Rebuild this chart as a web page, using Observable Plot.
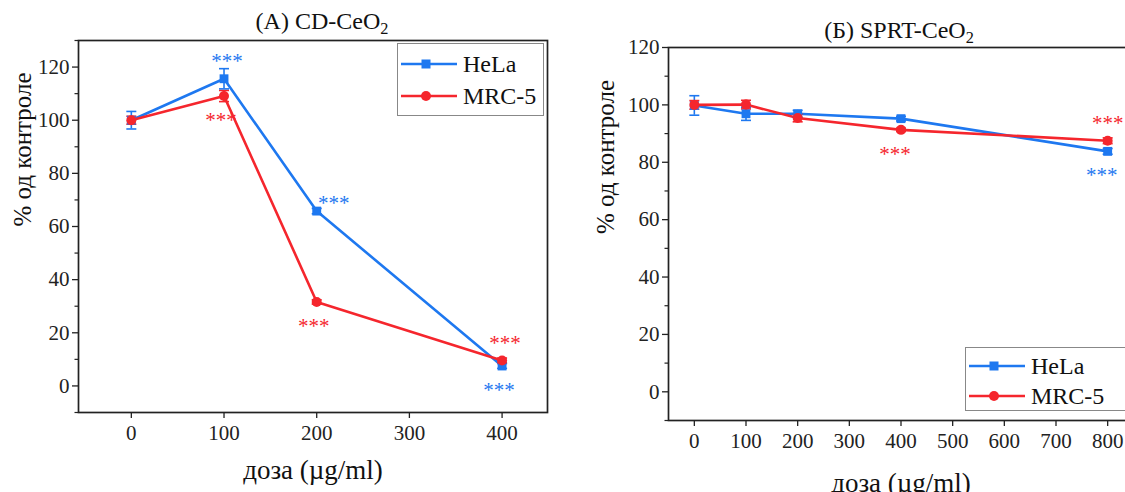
<!DOCTYPE html>
<html>
<head>
<meta charset="utf-8">
<script src="https://cdn.jsdelivr.net/npm/d3@7"></script>
<script src="https://cdn.jsdelivr.net/npm/@observablehq/plot@0.6"></script>
<style>
html, body { margin: 0; padding: 0; background: #fff; overflow: hidden; }
#root { position: relative; width: 1125px; height: 492px; overflow: hidden;
  font-family: "Liberation Serif", "Times New Roman", serif; color: #111; background: #fff; }
#root svg { max-width: none !important; font-family: "Liberation Serif", "Times New Roman", serif !important; }
#root svg text { font-family: "Liberation Serif", "Times New Roman", serif !important; }
.panel { position: absolute; top: 0; width: 620px; }
.title { position: absolute; font-size: 24px; white-space: nowrap; transform: translateX(-50%); line-height: 1; }
.title sub { font-size: 0.68em; vertical-align: -0.3em; line-height: 0; }
.legend { position: absolute; background: #fff; border: 1px solid #888; box-sizing: border-box; }
.legend .row { position: absolute; left: 0; display: flex; align-items: center; font-size: 24px; white-space: nowrap; }
.legend svg { display: block; margin-right: 5px; }
</style>
</head>
<body>
<div id="root"></div>
<script>
// ---------- data ----------
const series = ["HeLa", "MRC-5"];
const colors = ["#1e78f0", "#f5262d"];

// Panel A: CD-CeO2
const dosesA = [0, 100, 200, 400];
const helaA = [100, 115.6, 65.8, 7.5];
const helaAErr = [3.3, 3.8, 1.0, 0.9];
const mrcA = [100, 109.1, 31.6, 9.6];
const mrcAErr = [1.5, 2.1, 0.8, 0.9];

// Panel B: SPRT-CeO2
const dosesB = [0, 100, 200, 400, 800];
const helaB = [99.8, 96.9, 96.9, 95.2, 83.8];
const helaBErr = [3.4, 2.3, 1.2, 0.8, 1.0];
const mrcB = [100, 100.1, 95.4, 91.3, 87.5];
const mrcBErr = [1.5, 1.5, 1.3, 0.6, 1.0];

// significance marks (***): which point and on which side of it
const sigA = [
  {series: "HeLa", dose: 100, side: "above"},
  {series: "MRC-5", dose: 100, side: "below"},
  {series: "HeLa", dose: 200, side: "right"},
  {series: "MRC-5", dose: 200, side: "below"},
  {series: "MRC-5", dose: 400, side: "above"},
  {series: "HeLa", dose: 400, side: "below"}
];
const sigB = [
  {series: "MRC-5", dose: 400, side: "below"},
  {series: "MRC-5", dose: 800, side: "above"},
  {series: "HeLa", dose: 800, side: "below"}
];

// axis ticks
const yTicksA = [0, 20, 40, 60, 80, 100, 120];
const yMinorA = [-10, 10, 30, 50, 70, 90, 110, 130];
const xTicksA = [0, 100, 200, 300, 400];
const yTicksB = [0, 20, 40, 60, 80, 100, 120];
const yMinorB = [-10, 10, 30, 50, 70, 90, 110];
const xTicksB = [0, 100, 200, 300, 400, 500, 600, 700, 800];

const xLabel = "доза (µg/ml)";
const yLabel = "% од контроле";

// ---------- helpers ----------
function rows(doses, hela, helaErr, mrc, mrcErr) {
  const out = [];
  doses.forEach((d, i) => out.push({series: "HeLa", dose: d, v: hela[i], e: helaErr[i]}));
  doses.forEach((d, i) => out.push({series: "MRC-5", dose: d, v: mrc[i], e: mrcErr[i]}));
  return out;
}
const cap = {draw(ctx) { ctx.moveTo(-5, 0); ctx.lineTo(5, 0); }};
const FONT = '"Liberation Serif", "Times New Roman", serif';

function sigRows(sig, data) {
  return sig.map(s => {
    const p = data.find(d => d.series === s.series && d.dose === s.dose);
    return {...s, v: p.v};
  });
}

function panel(cfg) {
  const data = rows(cfg.doses, cfg.hela, cfg.helaErr, cfg.mrc, cfg.mrcErr);
  const sig = sigRows(cfg.sig, data);
  const off = {above: [3, -17], below: [-3, 24], right: [17, -8]};
  const sigMarks = ["above", "below", "right"].map(side =>
    Plot.text(sig.filter(s => s.side === side), {
      x: "dose", y: "v", text: () => "***", fill: "series",
      fontSize: 21, dx: off[side][0] + (cfg.sigDx || 0), dy: off[side][1], lineAnchor: "middle"
    })
  );
  return Plot.plot({
    width: cfg.width, height: cfg.height,
    marginLeft: cfg.ml, marginRight: cfg.mr, marginTop: cfg.mt, marginBottom: cfg.mb,
    style: {fontFamily: FONT, background: "transparent", overflow: "visible"},
    x: {domain: cfg.xDomain},
    y: {domain: cfg.yDomain},
    color: {domain: series, range: colors},
    marks: [
      Plot.axisY({ticks: cfg.yTicks, tickSize: 6, tickPadding: 3, fontSize: 21, label: null, stroke: "#222", strokeWidth: 1.3, fill: "#222"}),
      Plot.axisY({ticks: cfg.yMinor, tickSize: 3.5, tickFormat: () => "", label: null, stroke: "#222", strokeWidth: 1.2}),
      Plot.axisX({ticks: cfg.xTicks, tickSize: 6, tickPadding: 7, fontSize: 21, label: null, stroke: "#222", strokeWidth: 1.3, fill: "#222"}),
      Plot.frame({stroke: "#222", strokeWidth: 1.7}),
      Plot.line(data, {x: "dose", y: "v", z: "series", stroke: "series", strokeWidth: 2.6}),
      Plot.ruleX(data, {x: "dose", y1: d => d.v - d.e, y2: d => d.v + d.e, stroke: "series", strokeWidth: 1.6}),
      Plot.dot(data, {x: "dose", y: d => d.v + d.e, symbol: cap, stroke: "series", strokeWidth: 1.6}),
      Plot.dot(data, {x: "dose", y: d => d.v - d.e, symbol: cap, stroke: "series", strokeWidth: 1.6}),
      Plot.dot(data.filter(d => d.series === "HeLa"), {x: "dose", y: "v", symbol: "square", r: 5, fill: "series"}),
      Plot.dot(data.filter(d => d.series === "MRC-5"), {x: "dose", y: "v", symbol: "circle", r: 5, fill: "series"}),
      ...sigMarks,
      Plot.text([xLabel], {text: d => d, frameAnchor: "bottom", dy: cfg.xLabelDy, fontSize: 27, lineAnchor: "middle", fill: "#111"}),
      Plot.text([yLabel], {text: d => d, frameAnchor: "left", dx: cfg.yLabelDx, rotate: -90, fontSize: 25, lineAnchor: "middle", fill: "#111"})
    ]
  });
}

function legend(root, left, top, width, height, rowYs) {
  const box = document.createElement("div");
  box.className = "legend";
  Object.assign(box.style, {left: left + "px", top: top + "px", width: width + "px", height: height + "px"});
  series.forEach((s, i) => {
    const row = document.createElement("div");
    row.className = "row";
    row.style.top = (rowYs[i] - 15) + "px";
    row.style.height = "30px";
    const sym = s === "HeLa"
      ? `<rect x="23.5" y="10.5" width="9" height="9" fill="${colors[i]}"/>`
      : `<circle cx="28" cy="15" r="5" fill="${colors[i]}"/>`;
    row.innerHTML = `<svg width="60" height="30"><line x1="3" x2="59" y1="15" y2="15" stroke="${colors[i]}" stroke-width="2.6"/>${sym}</svg><span>${s}</span>`;
    box.appendChild(row);
  });
  root.appendChild(box);
}

// ---------- render ----------
const root = document.getElementById("root");

const pA = panel({
  doses: dosesA, hela: helaA, helaErr: helaAErr, mrc: mrcA, mrcErr: mrcAErr, sig: sigA,
  width: 560, height: 492, ml: 78, mr: 13, mt: 40, mb: 80,
  xDomain: [-57, 449], yDomain: [-10, 130],
  yTicks: yTicksA, yMinor: yMinorA, xTicks: xTicksA,
  xLabelDy: 58, yLabelDx: -56
});
const wA = document.createElement("div");
wA.className = "panel"; wA.style.left = "0px";
wA.appendChild(pA);
root.appendChild(wA);

const pB = panel({
  doses: dosesB, hela: helaB, helaErr: helaBErr, mrc: mrcB, mrcErr: mrcBErr, sig: sigB,
  width: 600, height: 492, ml: 108, mr: 27, mt: 47, mb: 72,
  xDomain: [-50, 850], yDomain: [-10, 120],
  yTicks: yTicksB, yMinor: yMinorB, xTicks: xTicksB,
  xLabelDy: 63, yLabelDx: -63, sigDx: -3
});
const wB = document.createElement("div");
wB.className = "panel"; wB.style.left = "560px";
wB.appendChild(pB);
root.appendChild(wB);

// titles
const tA = document.createElement("div");
tA.className = "title"; tA.style.left = "322px"; tA.style.top = "9px";
tA.innerHTML = "(A) CD-CeO<sub>2</sub>";
root.appendChild(tA);
const tB = document.createElement("div");
tB.className = "title"; tB.style.left = "899px"; tB.style.top = "18px";
tB.innerHTML = "(Б) SPRT-CeO<sub>2</sub>";
root.appendChild(tB);

// legends
legend(root, 397, 43, 147, 73, [20, 52]);
legend(root, 965, 347, 200, 64, [18, 48]);
</script>
</body>
</html>
